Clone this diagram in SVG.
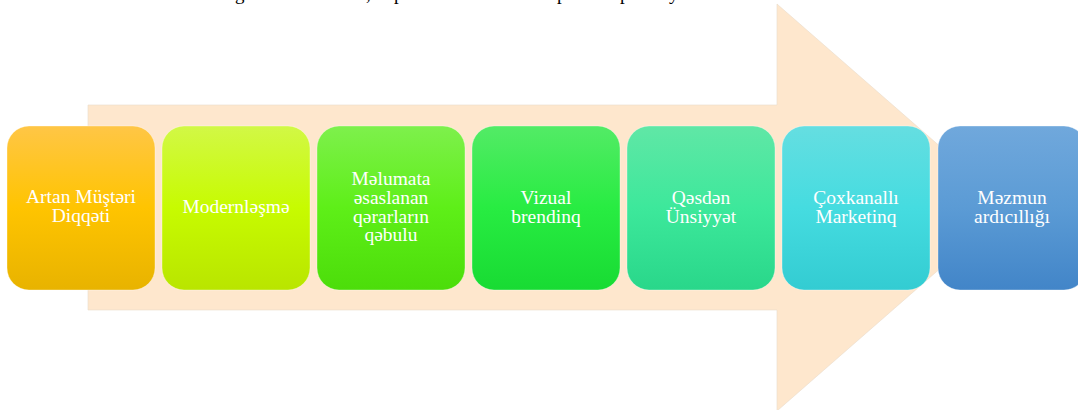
<svg xmlns="http://www.w3.org/2000/svg" width="1078" height="410" viewBox="0 0 1078 410">
<defs>
<linearGradient id="g1" x1="0" y1="0" x2="0" y2="1"><stop offset="0" stop-color="#FFC646"/><stop offset="0.5" stop-color="#FFC400"/><stop offset="1" stop-color="#E8B300"/></linearGradient>
<linearGradient id="g2" x1="0" y1="0" x2="0" y2="1"><stop offset="0" stop-color="#D2F846"/><stop offset="0.5" stop-color="#C7FB00"/><stop offset="1" stop-color="#B9E500"/></linearGradient>
<linearGradient id="g3" x1="0" y1="0" x2="0" y2="1"><stop offset="0" stop-color="#7EF04C"/><stop offset="0.5" stop-color="#5EEF18"/><stop offset="1" stop-color="#4CDD0A"/></linearGradient>
<linearGradient id="g4" x1="0" y1="0" x2="0" y2="1"><stop offset="0" stop-color="#53EB66"/><stop offset="0.5" stop-color="#28EC42"/><stop offset="1" stop-color="#18DB33"/></linearGradient>
<linearGradient id="g5" x1="0" y1="0" x2="0" y2="1"><stop offset="0" stop-color="#60E7A6"/><stop offset="0.5" stop-color="#3DE89B"/><stop offset="1" stop-color="#29D78A"/></linearGradient>
<linearGradient id="g6" x1="0" y1="0" x2="0" y2="1"><stop offset="0" stop-color="#65DEE1"/><stop offset="0.5" stop-color="#45DCE0"/><stop offset="1" stop-color="#33CCD2"/></linearGradient>
<linearGradient id="g7" x1="0" y1="0" x2="0" y2="1"><stop offset="0" stop-color="#70A8DC"/><stop offset="0.5" stop-color="#5B9BD5"/><stop offset="1" stop-color="#4285C8"/></linearGradient>
</defs>
<style>
.box{stroke:#ffffff;stroke-opacity:0.35;stroke-width:1}
.lbl{font-family:"Liberation Serif","Times New Roman",serif;font-size:19.5px;fill:#ffffff;text-anchor:middle}
.top{font-family:"Liberation Serif","Times New Roman",serif;font-size:19px;fill:#000000}
</style>
<g id="cut-text">
<text class="top" x="235" y="0">g</text>
<text class="top" x="366" y="0">,</text>
<text class="top" x="394" y="0">p</text>
<text class="top" x="557" y="0">p</text>
<text class="top" x="620" y="0">p</text>
<text class="top" x="669" y="0">y</text>
</g>
<g id="connectors">
<polygon id="arrow" points="88,105 777,105 777,4 1010,207.5 777,411 777,310 88,310" fill="#FEE7CD" stroke="#EADCCB" stroke-width="0.6"/>
</g>
<g id="n1"><rect class="box" x="7" y="126" width="148" height="164" rx="22" fill="url(#g1)"/><text class="lbl" x="81" y="203">Artan Müştəri</text><text class="lbl" x="81" y="222">Diqqəti</text></g>
<g id="n2"><rect class="box" x="162" y="126" width="148" height="164" rx="22" fill="url(#g2)"/><text class="lbl" x="236" y="213">Modernləşmə</text></g>
<g id="n3"><rect class="box" x="317" y="126" width="148" height="164" rx="22" fill="url(#g3)"/><text class="lbl" x="391" y="185">Məlumata</text><text class="lbl" x="391" y="204">əsaslanan</text><text class="lbl" x="391" y="222.5">qərarların</text><text class="lbl" x="391" y="241">qəbulu</text></g>
<g id="n4"><rect class="box" x="472" y="126" width="148" height="164" rx="22" fill="url(#g4)"/><text class="lbl" x="546" y="204">Vizual</text><text class="lbl" x="546" y="222.5">brendinq</text></g>
<g id="n5"><rect class="box" x="627" y="126" width="148" height="164" rx="22" fill="url(#g5)"/><text class="lbl" x="701" y="204">Qəsdən</text><text class="lbl" x="701" y="222.5">Ünsiyyət</text></g>
<g id="n6"><rect class="box" x="782" y="126" width="148" height="164" rx="22" fill="url(#g6)"/><text class="lbl" x="856" y="204">Çoxkanallı</text><text class="lbl" x="856" y="222.5">Marketinq</text></g>
<g id="n7"><rect class="box" x="938" y="126" width="148" height="164" rx="22" fill="url(#g7)"/><text class="lbl" x="1012" y="204">Məzmun</text><text class="lbl" x="1012" y="222.5">ardıcıllığı</text></g>
</svg>
